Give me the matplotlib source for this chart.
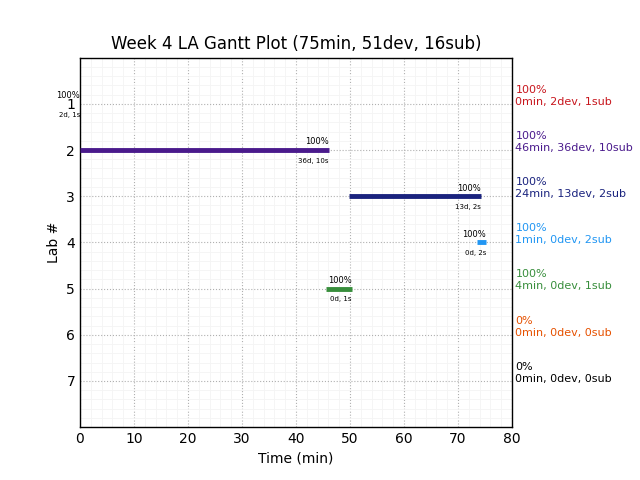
import matplotlib.pyplot as plt
import numpy as np
from matplotlib.ticker import MultipleLocator

# lab data
labs = [1, 2, 3, 4, 5, 6, 7]
starts = [0, 0, 49.8, 73.5, 45.5, 0, 0]
durations = [0, 46.1, 24.5, 1.7, 4.8, 0, 0]
pct = ["100%", "100%", "100%", "100%", "100%", "0%", "0%"]
bar_notes = ["2d, 1s", "36d, 10s", "13d, 2s", "0d, 2s", "0d, 1s", "", ""]
side_notes = ["0min, 2dev, 1sub", "46min, 36dev, 10sub", "24min, 13dev, 2sub",
              "1min, 0dev, 2sub", "4min, 0dev, 1sub", "0min, 0dev, 0sub",
              "0min, 0dev, 0sub"]
colors = ["#c8161d", "#4a1a8c", "#1a237e", "#2196f3", "#388e3c", "#e65100", "#000000"]
has_bar = [True, True, True, True, True, False, False]

fig, ax = plt.subplots(figsize=(6.4, 4.8), dpi=100)
fig.subplots_adjust(left=0.125, right=0.8, top=0.88, bottom=0.11)

for i, lab in enumerate(labs):
    if has_bar[i]:
        end = starts[i] + durations[i]
        if durations[i] > 0:
            ax.hlines(lab, starts[i], end, color=colors[i], lw=3.5, zorder=3)
        ax.text(end, lab - 0.08, pct[i], fontsize=6, ha='right', va='bottom')
        ax.text(end, lab + 0.17, bar_notes[i], fontsize=5, ha='right', va='top')
    ax.text(1.008, lab + 0.06, pct[i] + "\n" + side_notes[i], color=colors[i],
            fontsize=8, ha='left', va='bottom', transform=ax.get_yaxis_transform(),
            linespacing=1.25)

ax.set_xlim(0, 80)
ax.set_ylim(8, 0)
ax.set_yticks(labs)
ax.set_xticks(np.arange(0, 81, 10))
ax.xaxis.set_minor_locator(MultipleLocator(2))
ax.yaxis.set_minor_locator(MultipleLocator(0.2))
ax.tick_params(which='both', length=0, labelsize=10)
ax.grid(which='major', linestyle=':', color='#b0b0b0', lw=0.8)
ax.grid(which='minor', linestyle='-', color='#f4f4f4', lw=0.6)
ax.set_axisbelow(True)
for s in ax.spines.values():
    s.set_linewidth(1.0)

ax.set_title("Week 4 LA Gantt Plot (75min, 51dev, 16sub)", fontsize=12)
ax.set_xlabel("Time (min)")
ax.set_ylabel("Lab #")

plt.savefig("out.png", dpi=100)
